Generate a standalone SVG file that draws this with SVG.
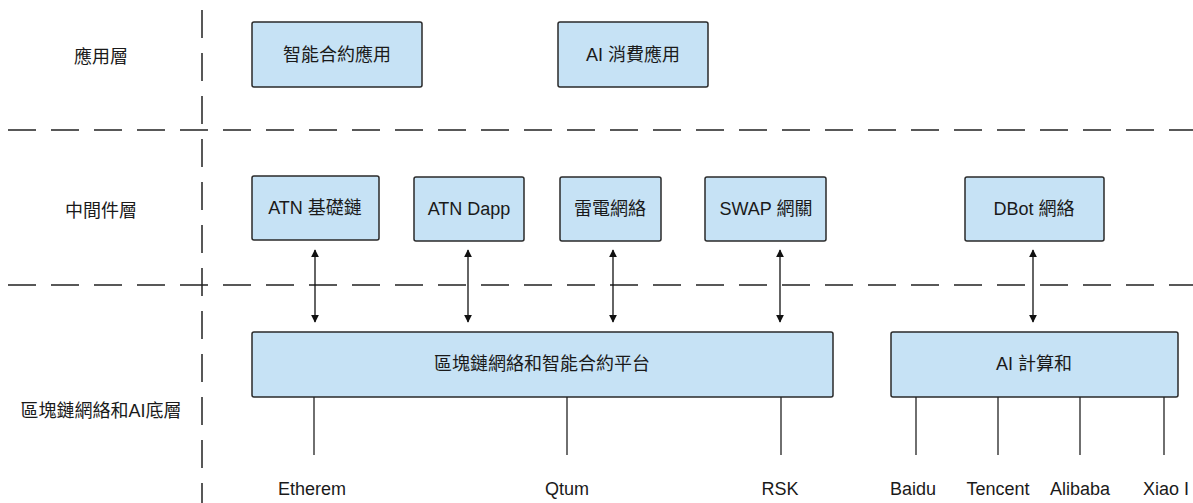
<svg xmlns="http://www.w3.org/2000/svg" width="1193" height="503" viewBox="0 0 1193 503">
  <defs>
    <marker id="head" viewBox="0 0 10 10" refX="9" refY="5" markerWidth="8" markerHeight="8" markerUnits="userSpaceOnUse" orient="auto-start-reverse">
      <path d="M0,0 L10,5 L0,10 z" fill="#111"/>
    </marker>
    <style>
      .box { fill: #c6e2f5; stroke: #2a2a2a; stroke-width: 1.5; }
      .lbl { font-family: "Liberation Sans", "Noto Sans CJK TC", sans-serif; font-size: 18px; fill: #1a1a1a; text-anchor: middle; dominant-baseline: central; }
      .divider { stroke: #222; stroke-width: 1.5; stroke-dasharray: 28 15; fill: none; }
      .link { stroke: #222; stroke-width: 1.3; fill: none; }
      .arrow { stroke: #111; stroke-width: 1.3; fill: none; marker-start: url(#head); marker-end: url(#head); }
    </style>
  </defs>
  <rect width="1193" height="503" fill="#fff"/>

  <!-- layer dividers -->
  <g id="dividers">
    <line class="divider" x1="202" y1="10" x2="202" y2="503"/>
    <line class="divider" x1="8" y1="130" x2="1193" y2="130"/>
    <line class="divider" x1="8" y1="285" x2="1193" y2="285"/>
  </g>

  <!-- layer titles -->
  <g id="layer-titles">
    <text class="lbl" x="101" y="57">應用層</text>
    <text class="lbl" x="101" y="211">中間件層</text>
    <text class="lbl" x="101" y="411">區塊鏈網絡和AI底層</text>
  </g>

  <!-- application layer -->
  <g id="smart-contract-app">
    <rect class="box" x="252" y="22" width="170" height="65" rx="2"/>
    <text class="lbl" x="337" y="55">智能合約應用</text>
  </g>
  <g id="ai-consumer-app">
    <rect class="box" x="558" y="22" width="150" height="65" rx="2"/>
    <text class="lbl" x="633" y="55">AI 消費應用</text>
  </g>

  <!-- middleware layer -->
  <g id="atn-chain">
    <rect class="box" x="252" y="176" width="127" height="64" rx="2"/>
    <text class="lbl" x="315" y="208">ATN 基礎鏈</text>
  </g>
  <g id="atn-dapp">
    <rect class="box" x="414" y="177" width="110" height="64" rx="2"/>
    <text class="lbl" x="469" y="209">ATN Dapp</text>
  </g>
  <g id="raiden">
    <rect class="box" x="560" y="177" width="101" height="64" rx="2"/>
    <text class="lbl" x="610" y="209">雷電網絡</text>
  </g>
  <g id="swap-gateway">
    <rect class="box" x="705" y="177" width="121" height="64" rx="2"/>
    <text class="lbl" x="766" y="209">SWAP 網關</text>
  </g>
  <g id="dbot-network">
    <rect class="box" x="965" y="177" width="139" height="64" rx="2"/>
    <text class="lbl" x="1034" y="209">DBot 網絡</text>
  </g>

  <!-- base layer -->
  <g id="chain-platform">
    <rect class="box" x="252" y="332" width="581" height="65" rx="2"/>
    <text class="lbl" x="542" y="364">區塊鏈網絡和智能合約平台</text>
  </g>
  <g id="ai-compute">
    <rect class="box" x="891" y="332" width="287" height="65" rx="2"/>
    <text class="lbl" x="1034" y="364">AI 計算和</text>
  </g>

  <!-- connectors -->
  <g id="connectors">
    <line class="arrow" x1="315" y1="250" x2="315" y2="322"/>
    <line class="arrow" x1="468" y1="250" x2="468" y2="322"/>
    <line class="arrow" x1="613" y1="250" x2="613" y2="322"/>
    <line class="arrow" x1="780" y1="250" x2="780" y2="322"/>
    <line class="arrow" x1="1033" y1="250" x2="1033" y2="322"/>

    <line class="link" x1="314" y1="397" x2="314" y2="455"/>
    <line class="link" x1="567" y1="397" x2="567" y2="455"/>
    <line class="link" x1="781" y1="397" x2="781" y2="455"/>
    <line class="link" x1="916" y1="397" x2="916" y2="455"/>
    <line class="link" x1="998" y1="397" x2="998" y2="455"/>
    <line class="link" x1="1080" y1="397" x2="1080" y2="455"/>
    <line class="link" x1="1164" y1="397" x2="1164" y2="455"/>
  </g>

  <!-- platform names -->
  <g id="platforms">
    <text class="lbl" x="312" y="489">Etherem</text>
    <text class="lbl" x="567" y="489">Qtum</text>
    <text class="lbl" x="780" y="489">RSK</text>
    <text class="lbl" x="913" y="489">Baidu</text>
    <text class="lbl" x="998" y="489">Tencent</text>
    <text class="lbl" x="1080" y="489">Alibaba</text>
    <text class="lbl" x="1166" y="489">Xiao I</text>
  </g>
</svg>
